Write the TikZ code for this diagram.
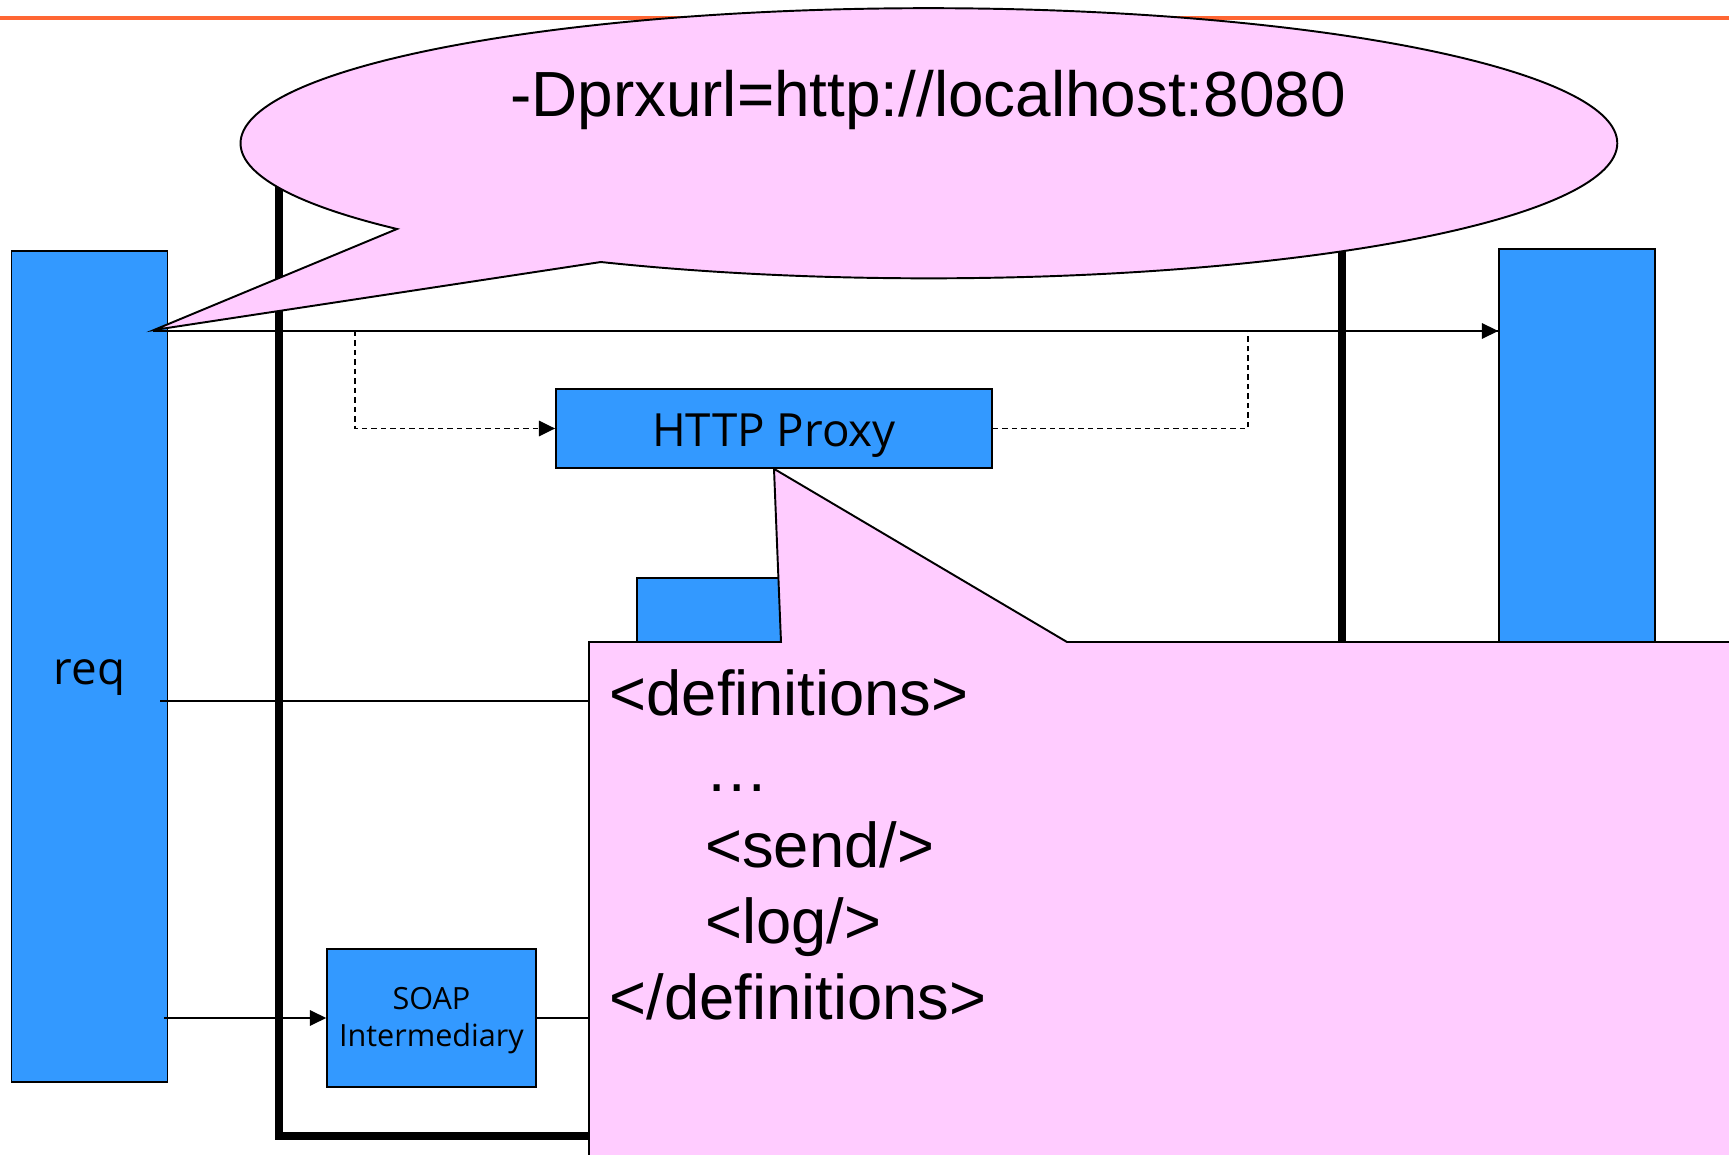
\documentclass[tikz,border=0pt]{standalone}
\usepackage{fontspec}
\setmainfont{Liberation Sans}
\newfontfamily\boxfont{Open Sans}
\usetikzlibrary{arrows.meta,positioning}
\definecolor{boxblue}{HTML}{3399FF}
\definecolor{notepink}{HTML}{FFCCFF}
\definecolor{rulered}{HTML}{FF6633}

\begin{document}
\begin{tikzpicture}[
    x=0.01cm, y=-0.01cm,
    % Style definitions
    block/.style={rectangle, draw=black, fill=boxblue, line width=0.45pt, inner sep=0pt},
    blocktext/.style={text height=10.5pt, text depth=0pt, font=\boxfont\fontsize{13}{15}\selectfont},
    note/.style={draw=black, fill=notepink, line width=0.55pt},
    lane/.style={line width=2.3pt},
    link/.style={line width=0.45pt},
    arrow/.style={-{Triangle[length=4.6pt, width=4.4pt]}, line width=0.45pt},
    hop/.style={dash pattern=on 1.5pt off 1.2pt, line width=0.45pt},
    hoparrow/.style={hop, -{Triangle[length=4.6pt, width=4.4pt]}}
]
\useasboundingbox (0,0) rectangle (1729,1155);

% Slide rule
\draw[rulered, line width=1.4pt] (0,18) -- (1729,18);

% Boundary lanes
\draw[lane] (279,150) -- (279,1136) -- (640,1136);
\draw[lane] (1342,200) -- (1342,700);

% Endpoints
\node[block, blocktext, minimum width=1.56cm, minimum height=8.31cm] (req) at (89.5,666.5) {req};
\node[block, minimum width=1.56cm, minimum height=4.51cm] (service) at (1577,474.5) {};

% Intermediaries
\node[block, blocktext, minimum width=4.36cm, minimum height=0.79cm] (proxy) at (774,428.5) {HTTP Proxy};
\node[block, minimum width=1.63cm, minimum height=1.22cm] (stub) at (718.5,639) {};
\node[block, align=center, font=\boxfont\fontsize{8.7}{10.4}\selectfont, minimum width=2.09cm, minimum height=1.38cm] (soap) at (431.5,1018) {\rule{0pt}{7.9pt}SOAP\\Intermediary};

% Connections
\coordinate (reqtop) at (153,331);
\coordinate (reqmid) at (160,701);
\coordinate (reqlow) at (164,1018);
\coordinate (tap) at (355,331);
\coordinate (join) at (1248,331);
\coordinate (defscorner) at (589,642);

\draw[arrow] (reqtop) -- (reqtop -| service.west);
\draw[hoparrow] (tap) |- (proxy.west);
\draw[hop] (proxy.east) -| (join) -- (join -| service.west);
\draw[link] (reqmid) -- (reqmid -| defscorner);
\draw[arrow] (reqlow) -- (soap.west);
\draw[link] (soap.east) -- (soap.east -| defscorner);

% Command line bubble
\coordinate (bubbletip) at (154,330);
\draw[note] (601,262) -- (bubbletip) -- (397,229)
    arc[start angle=219.4, end angle=-118.4, x radius=6.88cm, y radius=1.35cm] -- cycle;
\node[anchor=base, font=\fontsize{18.15}{22}\selectfont] (url) at (928,117) {-Dprxurl=http://localhost:8080};

% Definitions note
\draw[note] (defscorner) -- (781,642) -- (proxy.south) -- (1067,642) -- (1760,642)
    -- (1760,1180) -- (589,1180) -- cycle;
\node[anchor=north west, inner sep=0pt, align=left, font=\fontsize{18}{21.6}\selectfont] (defs) at (609,669)
    {<definitions>\\\hspace*{27.2pt}\ldots\\\hspace*{27.2pt}<send/>\\\hspace*{27.2pt}<log/>\\</definitions>};

\end{tikzpicture}
\end{document}
